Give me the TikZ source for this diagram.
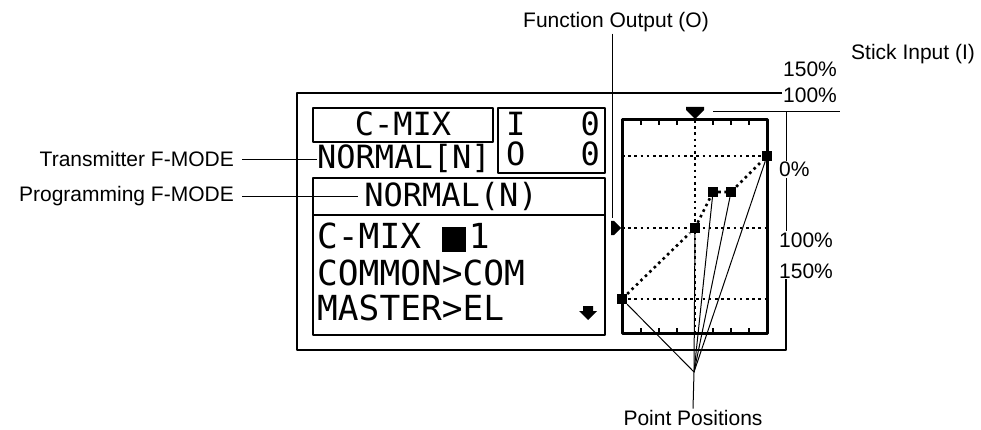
\documentclass[tikz,border=0pt]{standalone}
\usepackage{fontspec}
\setmainfont{Liberation Sans}
\newfontfamily\lcdfont{DejaVu Sans Mono}
\usetikzlibrary{positioning}
\tikzset{
	lcd/.style={font=\lcdfont\fontsize{32}{32}\selectfont,inner sep=0pt,anchor=base west},
	lcdrow/.style={lcd,font=\lcdfont\fontsize{34.5}{34}\selectfont},
	lbl/.style={font=\fontsize{21}{21}\selectfont,inner sep=1pt},
	lcdbox/.style={line width=2.6pt},
	leader/.style={line width=1pt},
	pt/.style={fill,minimum size=10pt,inner sep=0pt},
	griddots/.style={line width=2.6pt,dash pattern=on 2.6pt off 3.6pt}
}
\begin{document}
\begin{tikzpicture}[x=1pt,y=-1pt,line join=round,>=stealth]
		\useasboundingbox (0,0) rectangle (981,430);
		% scale labels on the right
		\node[lbl,anchor=base west] (s150) at (782,77) {150\%};
		\node[lbl,anchor=base west] (s100) at (782,103) {100\%};
		\node[lbl,anchor=base west] (z0) at (778,177) {0\%};
		\node[lbl,anchor=base west] (m100) at (778,247) {100\%};
		\node[lbl,anchor=base west] (m150) at (778,278) {150\%};
		\node[lbl,anchor=base west] (si) at (850,60) {Stick Input (I)};
		\coordinate (sx) at (786,112);
		\draw[leader] (713,112) -- (840,112) (sx) -- (sx |- z0.north)
		(sx |- z0.south) -- (sx |- m100.north);
		% outer frame
		\coordinate (ftl) at (297,93); \coordinate (fbl) at (297,350);
		\draw[line width=1.2pt] (ftl -| s100.west) -- (ftl) -- (fbl) -- (fbl -| sx) -- (sx |- m150.south);
		% display
		\draw[lcdbox] (313,108) rectangle (493,142);
		\draw[lcdbox] (498,108) rectangle (605,173);
		\draw[lcdbox] (313,178) rectangle (605,335) (313,215) -- (605,215);
		\node[lcd,anchor=base] (cmix) at (403,136) {C-MIX};
		\node[lcd] (txm) at (317,169) {NORMAL[N]};
		\node[lcd] (iname) at (506,136) {I};
		\node[lcd,anchor=base east] (ival) at (600,136) {0};
		\node[lcd] (oname) at (506,166) {O};
		\node[lcd,anchor=base east] (oval) at (600,166) {0};
		\node[lcd,anchor=base] (prg) at (451,207) {NORMAL(N)};
		\node[lcdrow] (row1) at (317,248) {C-MIX \rule[-4pt]{24pt}{25pt}\hspace{3pt}1};
		\node[lcdrow] (row2) at (317,285) {COMMON>COM};
		\node[lcdrow] (row3) at (317,320) {MASTER>EL};
		\fill (583,306) -- (593,306) -- (593,311) -- (597,311) -- (588,320) -- (579,311) -- (583,311) -- cycle;
		% curve graph
		\draw[line width=3pt] (622,120) rectangle (767,333);
		\foreach \x in {641,659,677,713,731,749}
		\draw[line width=2pt] (\x,120) -- (\x,125) (\x,333) -- (\x,328);
		\draw[griddots] (622,156) -- (767,156) (622,228) -- (767,228)
		(622,299) -- (767,299) (695,120) -- (695,333);
		\fill (686,107) -- (704,107) -- (704,110) -- (695,119) -- (686,110) -- cycle;
		\fill (611,221) -- (614,221) -- (621,228) -- (614,235) -- (611,235) -- cycle;
		\node[pt] (p1) at (622,299) {};
		\node[pt] (p2) at (695,228) {};
		\node[pt] (p3) at (713,192) {};
		\node[pt] (p4) at (731,192) {};
		\node[pt] (p5) at (767,156) {};
		\draw[griddots] (p1) -- (p2) -- (p3) -- (p4) -- (p5);
		% callouts
		\node[lbl,anchor=base] (fo) at (616,28) {Function Output (O)};
		\coordinate (fomark) at (612,218);
		\draw[leader] (fo.south -| fomark) -- (fomark);
		\node[lbl,anchor=base east] (tx) at (235,167) {Transmitter F-MODE};
		\draw[leader] ([xshift=7pt]tx.east) -- (tx.east -| txm.west);
		\node[lbl,anchor=base east] (pg) at (235,202) {Programming F-MODE};
		\draw[leader] ([xshift=7pt]pg.east) -- ([xshift=-6pt]pg.east -| prg.west);
		\node[lbl,anchor=base] (pp) at (693,425) {Point Positions};
		\coordinate (apex) at (694,372);
		\draw[leader] (pp.north) -- (apex);
		\foreach \p in {p1,p2,p3,p4,p5}
		\draw[leader] (apex) -- (\p);
\end{tikzpicture}
\end{document}
